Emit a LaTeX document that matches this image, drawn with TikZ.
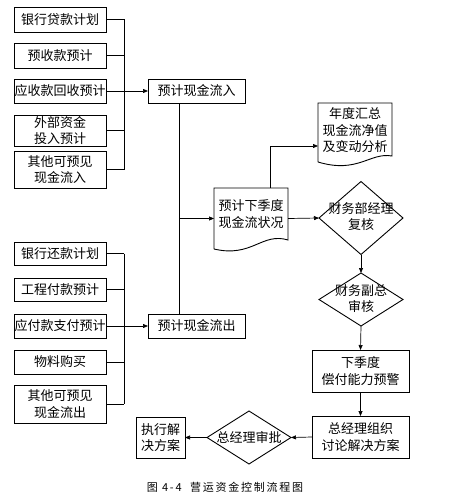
\documentclass[tikz,border=0pt]{standalone}
\usepackage{fontspec}
\setmainfont{Noto Sans CJK SC}
\newfontfamily\capfont[LetterSpace=16]{Noto Sans CJK SC}
\usetikzlibrary{shapes.geometric,arrows.meta,calc}
\begin{document}
\begin{tikzpicture}[x=1pt,y=-1pt,
  box/.style={draw,line width=0.9pt,inner sep=0pt,outer sep=0pt,align=center,
    font=\fontsize{13}{16.5}\selectfont},
  plain/.style={inner sep=0pt,outer sep=0pt,align=center,font=\fontsize{13}{16.5}\selectfont},
  dia/.style={draw,line width=0.9pt,shape=diamond,inner sep=0pt,outer sep=0pt},
  ln/.style={line width=0.7pt},
  arr/.style={line width=0.7pt,-{Triangle[length=5pt,width=4pt]}}]
\useasboundingbox (0,0) rectangle (471,503);
% left inflow boxes
\node[box,minimum width=92pt,minimum height=25pt] (b1) at (60,19.5) {银行贷款计划};
\node[box,minimum width=92pt,minimum height=25pt] (b2) at (60,55.5) {预收款预计};
\node[box,minimum width=92pt,minimum height=24pt] (b3) at (60,91) {应收款回收预计};
\node[box,minimum width=92pt,minimum height=31pt] (b4) at (60,130.5) {外部资金\\投入预计};
\node[box,minimum width=92pt,minimum height=37pt] (b5) at (60,169.5) {其他可预见\\现金流入};
% left outflow boxes
\node[box,minimum width=92pt,minimum height=23pt] (o1) at (60,253.5) {银行还款计划};
\node[box,minimum width=92pt,minimum height=23pt] (o2) at (60,289.5) {工程付款预计};
\node[box,minimum width=92pt,minimum height=24pt] (o3) at (60,326) {应付款支付预计};
\node[box,minimum width=92pt,minimum height=24pt] (o4) at (60,362) {物料购买};
\node[box,minimum width=92pt,minimum height=38pt] (o5) at (60,404) {其他可预见\\现金流出};
% summary boxes
\node[box,minimum width=97pt,minimum height=24pt] (in) at (196.5,91) {预计现金流入};
\node[box,minimum width=97pt,minimum height=24pt] (out) at (196.5,326) {预计现金流出};
\coordinate (bus) at (124,0);
\coordinate (vx) at (179,0);
% document shapes
\node[plain,minimum width=74pt,minimum height=61pt] (doc1) at (251,218.5) {};
\node[plain] (doc1t) at (251,214) {预计下季度\\现金流状况};
\draw[line width=0.9pt] (214,249) -- (214,188) -- (288,188) -- (288,240)
  .. controls (262,232) and (252,258) .. (214,249);
\node[plain,minimum width=74pt,minimum height=57pt] (doc2) at (355,131) {};
\node[plain] (doc2t) at (355,130.5) {年度汇总\\现金流净值\\及变动分析};
\draw[line width=0.9pt] (318,162) -- (318,103) -- (392,103) -- (392,156)
  .. controls (370,152) and (358,174) .. (318,162);
\coordinate (up) at (270,146);
% diamonds
\node[dia,minimum width=84pt,minimum height=73pt] (d1) at (361,218) {};
\node[plain] (d1t) at (361,216.5) {财务部经理\\复核};
\node[dia,minimum width=84pt,minimum height=53pt] (d2) at (361,299.5) {};
\node[plain] (d2t) at (361,298.5) {财务副总\\审核};
\node[box,minimum width=97pt,minimum height=42pt] (w1) at (360.5,371) {下季度\\偿付能力预警};
\node[box,minimum width=97pt,minimum height=42pt] (w2) at (360.5,437) {总经理组织\\讨论解决方案};
\node[dia,minimum width=84pt,minimum height=53pt] (d3) at (249,437.5) {};
\node[plain] (d3t) at (249,437) {总经理审批};
\node[box,minimum width=49pt,minimum height=41pt] (ex) at (160.5,437.5) {执行解\\决方案};
\node[inner sep=0pt,font=\capfont\fontsize{11}{12}\selectfont] (cap) at (225,487) {图 4-4 \ 营运资金控制流程图};
% connectors inflow
\foreach \n in {b1,b2,b3,b4,b5} \draw[ln] (\n.east) -- (\n.east -| bus);
\draw[ln] (b1.east -| bus) -- (b5.east -| bus);
\draw[arr] (b3.east -| bus) -- (in.west);
\foreach \n in {o1,o2,o3,o4,o5} \draw[ln] (\n.east) -- (\n.east -| bus);
\draw[ln] (o1.east -| bus) -- (o5.east -| bus);
\draw[arr] (o3.east -| bus) -- (out.west);
\draw[ln] (in.south -| vx) -- (out.north -| vx);
\draw[arr] (doc1.west -| vx) -- (doc1.west);
\draw[arr] (doc1.north -| up) -- (up) -- (doc2.west |- up);
\draw[arr] (doc1.east) -- (d1.west);
\draw[arr] (d1.south) -- (d2.north);
\draw[arr] (d2.south) -- (w1.north);
\draw[arr] (w1.south) -- (w2.north);
\draw[arr] (w2.west) -- (d3.east);
\draw[arr] (d3.west) -- (ex.east);
\end{tikzpicture}
\end{document}
